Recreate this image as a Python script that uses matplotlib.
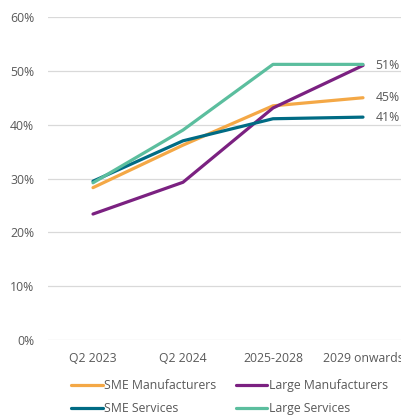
import numpy as np
import matplotlib.pyplot as plt

plt.rcParams['font.family'] = ['Open Sans', 'DejaVu Sans']

categories = ['Q2 2023', 'Q2 2024', '2025-2028', '2029 onwards']
sme_manufacturers = [28.3, 36.2, 43.5, 45.0]
large_manufacturers = [23.4, 29.3, 43.1, 51.0]
sme_services = [29.5, 37.0, 41.1, 41.4]
large_services = [29.2, 39.0, 51.2, 51.2]
end_labels = {'Large Manufacturers': '51%', 'SME Manufacturers': '45%', 'SME Services': '41%'}

series = [
    ('SME Manufacturers', sme_manufacturers, '#F4A846'),
    ('Large Manufacturers', large_manufacturers, '#7B2181'),
    ('SME Services', sme_services, '#006B84'),
    ('Large Services', large_services, '#5BBE9E'),
]

fig = plt.figure(figsize=(4.01, 4.16), dpi=100)
W, H = 401, 416
# axes run past the right edge, as in the original crop
ax = fig.add_axes([48 / W, 1 - 340 / H, 360 / W, 323 / H])

x = np.arange(len(categories))
lines = {}
for name, vals, col in series:
    lines[name], = ax.plot(x, vals, color=col, lw=2.3, label=name,
                           solid_capstyle='round', clip_on=False)

for name, vals, col in series:
    if name in end_labels:
        ax.annotate(end_labels[name], (x[-1], vals[-1]), xytext=(9, 0),
                    textcoords='offset points', va='center', ha='left',
                    fontsize=8.8, color='#595959')

ax.set_xlim(-0.5, len(categories) - 0.5)
ax.set_ylim(0, 60)
ax.set_yticks(np.arange(0, 61, 10))
ax.set_yticklabels([f'{v}%' for v in range(0, 61, 10)])
ax.set_xticks(x)
ax.set_xticklabels(categories)
ax.grid(axis='y', color='#D9D9D9', lw=0.9)
ax.set_axisbelow(True)
for s in ax.spines.values():
    s.set_visible(False)
ax.tick_params(length=0, labelsize=8.8, colors='#595959')
ax.tick_params(axis='x', pad=9)
ax.tick_params(axis='y', pad=10)

# legend fills column-wise, so order for two rows
order = ['SME Manufacturers', 'SME Services', 'Large Manufacturers', 'Large Services']
fig.legend([lines[n] for n in order], order, ncol=2, loc='upper left',
           bbox_to_anchor=(66 / W, 1 - 374 / H), frameon=False, fontsize=8.8,
           labelcolor='#595959', handlelength=2.6, handletextpad=0.1,
           columnspacing=1.6, labelspacing=0.85, borderaxespad=0)

fig.savefig('out.png', dpi=100)
